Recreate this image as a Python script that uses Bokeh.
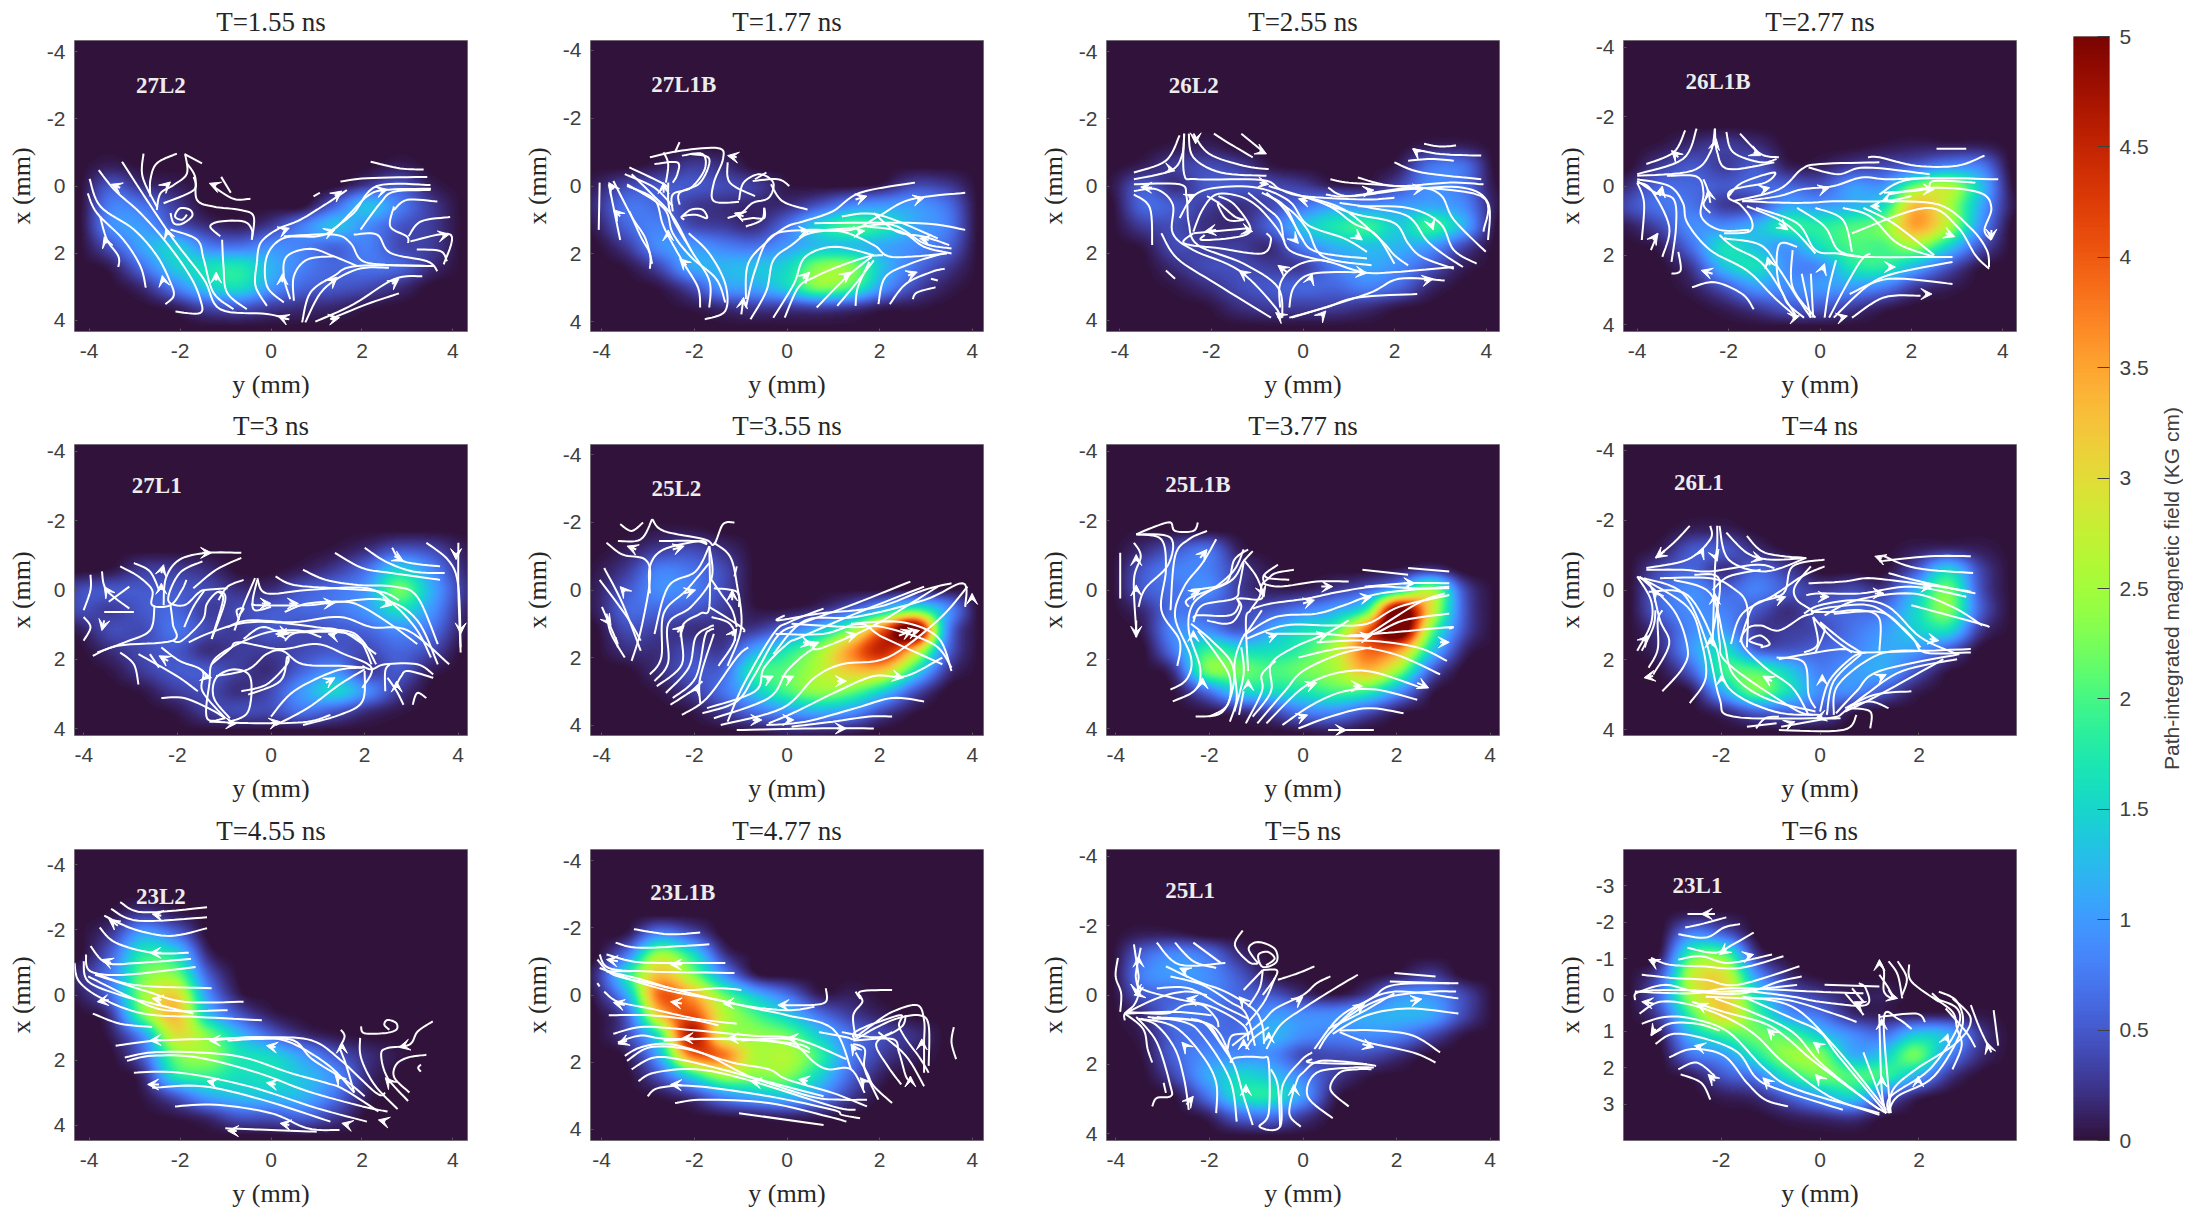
import numpy as np
from bokeh.embed import file_html
from bokeh.resources import INLINE
from bokeh.plotting import figure
from bokeh.layouts import row, column
from bokeh.models import (Range1d, LinearColorMapper, FixedTicker, Arrow, VeeHead,
                          ColumnDataSource, Label)
from bokeh.palettes import Turbo256

grid_cols_y = [-4.2,-3.5,-2.8,-2.1,-1.4,-0.7,0,0.7,1.4,2.1,2.8,3.5,4.2]
grid_rows_x = [-2.4,-1.8,-1.2,-0.6,0,0.6,1.2,1.8,2.4,3.0,3.6,4.2]
Z = [0]*13

grid_27L2 = [Z,Z,Z,
 [0,.1,0,0,0,0,0,0,0,0,.1,0,0],
 [0,.5,.2,.1,0,0,0,0,0,.3,.5,.1,0],
 [0,.8,.7,.3,0,0,0,0,.6,1.3,.8,.3,0],
 [0,.9,1.0,.5,.2,.1,.3,.8,1.3,.9,.5,.3,0],
 [0,.5,1.1,1.4,.8,.7,.9,.8,.6,.8,.4,.3,0],
 [0,.1,.7,1.4,1.6,1.7,1.2,.8,.6,.7,.6,.2,0],
 [0,0,.2,.8,1.4,1.6,1.0,.6,.5,.4,.2,0,0],
 [0,0,0,.1,.4,.5,.3,.2,.15,.05,0,0,0],Z]
grid_27L1B = [Z,Z,Z,
 [0,0,.1,.3,.2,0,0,0,0,0,0,0,0],
 [.1,.4,.5,.5,.4,.3,.05,0,0,.1,.4,.3,0],
 [.2,.7,.6,.3,.2,.15,.2,.5,.9,1.0,1.0,.7,0],
 [.1,.6,.8,.4,.3,.2,.7,1.5,2.0,1.7,1.1,.8,0],
 [0,.3,.9,1.0,.8,.7,1.0,1.3,1.3,1.1,.9,.6,0],
 [0,.05,.4,1.1,1.2,1.3,1.5,2.3,2.3,1.3,.7,.3,0],
 [0,0,.05,.4,1.0,1.1,1.5,2.3,2.0,1.0,.4,.1,0],
 [0,0,0,.05,.2,.3,.3,.4,.3,.1,.05,0,0],Z]
grid_26L2 = [Z,Z,
 [0,0,.05,.1,0,0,0,0,0,0,.1,.1,0],
 [0,.1,.3,.4,.3,.05,0,0,0,.1,.7,.7,0],
 [.05,.5,.2,.5,.5,.4,.3,.1,.1,.4,.9,.7,.05],
 [0,.6,.5,.3,.2,.4,.7,1.0,.9,1.0,1.1,.9,.1],
 [0,.3,.4,.2,.2,.6,1.3,1.7,1.9,1.4,1.9,1.2,.05],
 [0,.05,.4,.3,.3,.2,.8,1.2,1.3,1.2,1.0,.4,0],
 [0,0,.2,.4,.4,.3,.3,.8,1.1,.9,.5,.1,0],
 [0,0,.05,.2,.4,.5,.6,.6,.8,.6,.15,0,0],
 [0,0,0,.02,.2,.3,.3,.3,.2,.05,0,0,0],Z]
grid_26L1B = [Z,Z,
 [0,.05,.2,.3,.2,0,0,0,.05,.1,.1,.1,0],
 [0,.3,.5,.3,.5,.1,.1,.3,.4,.6,.9,.8,0],
 [.2,.6,.6,.5,.6,.6,.5,1.0,1.0,2.2,2.6,1.4,.05],
 [.4,.7,.7,.3,.4,1.1,1.0,1.2,1.6,3.3,2.6,1.2,.1],
 [.1,.4,.9,.9,1.2,1.8,1.8,2.0,2.3,3.5,2.6,1.0,0],
 [0,.1,.7,1.6,1.3,1.0,1.6,2.0,2.0,2.4,1.5,.5,0],
 [0,0,.3,1.3,1.6,.9,.9,1.7,1.8,1.2,.5,.05,0],
 [0,0,.1,.5,1.0,.9,1.0,1.0,.8,.3,.1,0,0],
 [0,0,0,.1,.3,.5,.5,.3,.1,0,0,0,0],Z]
grid_27L1 = [Z,Z,
 [0,0,0,0,0,0,0,0,.05,.2,.5,.4,.1],
 [0,.05,.3,.3,.2,0,0,.1,.3,.7,1.5,.9,.2],
 [.4,.5,.5,.5,.4,.2,.2,.5,.7,1.0,2.2,1.2,.3],
 [.4,.3,.5,.6,.3,.4,.5,.6,.7,1.0,1.6,1.0,.2],
 [.1,.4,.4,.7,.4,.3,.5,.4,.5,.6,.9,.7,.1],
 [0,.2,.4,.5,.2,.3,.3,.4,.5,.4,.6,.4,0],
 [0,.05,.3,.5,.5,.3,.2,.6,.9,.3,.5,.1,0],
 [0,0,.05,.3,.4,.2,.4,1.0,1.5,.9,.3,0,0],
 [0,0,0,.05,.3,.4,.4,.7,.5,.2,.05,0,0],Z]
grid_25L2 = [Z,
 [0,0,.05,.05,0,0,0,0,0,0,0,0,0],
 [0,.1,.3,.4,.2,0,0,0,0,0,0,0,0],
 [.05,.3,.8,.7,.4,0,0,0,0,0,0,0,0],
 [.1,.5,.9,.8,.4,0,0,0,0,0,.05,.05,0],
 [.1,.6,.6,.5,.3,.05,.05,.2,.6,1.3,2.0,1.0,0],
 [0,.4,.3,.2,.2,.3,.7,1.3,2.3,4.0,5.4,1.0,0],
 [0,.2,.2,.4,.3,1.1,1.7,2.4,3.6,4.5,3.2,.7,0],
 [0,0,.2,.5,.6,1.8,2.1,2.6,3.2,3.2,1.7,.3,0],
 [0,0,.05,.3,.7,1.4,2.0,2.4,2.2,1.5,.5,0,0],
 [0,0,0,.05,.3,.7,1.0,1.2,1.0,.4,.05,0,0],
 [0,0,0,0,0,.05,.15,.15,.1,0,0,0,0]]
grid_25L1B = [Z,
 [0,.02,0,0,0,0,0,0,0,0,0,0,0],
 [0,.2,.5,.7,.1,0,0,0,0,0,0,0,0],
 [0,.5,.8,.8,.3,.05,0,0,0,.1,.3,0,0],
 [0,.5,.7,.9,.3,.1,.1,.3,.6,1.4,2.5,.5,0],
 [0,.2,.7,.6,.4,.5,.8,1.1,1.9,5.2,3.0,.6,0],
 [0,.1,.9,.9,.5,1.1,1.6,2.0,3.9,5.6,2.3,.5,0],
 [0,0,.8,1.9,1.6,1.6,1.9,2.6,3.9,3.6,1.5,.2,0],
 [0,0,.3,2.2,2.2,2.0,2.2,2.5,3.3,2.4,.6,0,0],
 [0,0,.05,.7,1.5,1.6,1.7,2.0,1.9,1.0,.1,0,0],
 [0,0,0,.05,.2,.4,.8,.9,.5,.1,0,0,0],
 [0,0,0,0,0,0,.05,.1,0,0,0,0,0]]
grid_26L1 = [Z,
 [0,0,.1,.1,0,0,0,0,0,0,0,0,0],
 [0,.1,.5,.5,.2,0,0,0,0,.1,.2,.1,0],
 [0,.4,.6,.2,.6,.3,0,0,0,.5,1.5,.4,0],
 [0,.6,.9,.6,.8,.5,.3,.4,.3,1.2,2.2,.5,0],
 [0,.6,.9,.8,.5,.2,.5,.6,.7,1.5,2.3,.6,0],
 [0,.3,.9,1.0,.3,.3,.4,.7,1.0,1.4,1.6,.3,0],
 [0,.2,1.0,1.6,.6,.5,.6,.8,1.1,1.0,.5,0,0],
 [0,.05,.6,1.9,2.0,1.4,.8,1.0,1.1,.5,.05,0,0],
 [0,0,.1,1.2,2.2,1.6,.9,.9,.5,.1,0,0,0],
 [0,0,0,.2,.6,.6,.5,.1,0,0,0,0,0],Z]
grid_23L2 = [
 [0,.05,.3,.1,0,0,0,0,0,0,0,0,0],
 [0,.3,1.1,.7,0,0,0,0,0,0,0,0,0],
 [0,.6,1.8,1.6,.2,0,0,0,0,0,0,0,0],
 [.2,.8,2.2,2.3,.6,0,0,0,0,0,0,0,0],
 [.1,.7,2.4,3.1,1.0,.1,0,0,0,0,0,0,0],
 [0,.3,2.2,3.3,1.4,.5,.1,0,0,0,0,0,0],
 [0,.1,1.0,2.9,2.3,1.3,.6,.2,.05,0,0,0,0],
 [0,0,.6,2.2,2.4,1.7,1.5,1.0,.5,.2,.05,0,0],
 [0,0,.2,1.7,1.9,1.6,1.6,1.3,.9,.2,0,0,0],
 [0,0,.05,.5,1.1,1.3,1.3,1.2,.7,.1,0,0,0],
 [0,0,0,.05,.2,.5,.5,.6,.3,0,0,0,0],Z]
grid_23L1B = [Z,
 [0,.1,.9,.5,0,0,0,0,0,0,0,0,0],
 [0,.8,2.5,1.7,.3,0,0,0,0,0,0,0,0],
 [.2,1.7,3.3,2.4,1.0,.1,0,0,0,0,0,0,0],
 [.1,1.2,3.9,3.5,2.2,1.3,.7,.1,.1,0,0,0,0],
 [0,.6,3.2,4.1,2.7,2.0,1.4,.7,.3,.1,0,0,0],
 [0,.4,1.8,4.7,2.7,2.4,2.2,1.4,.7,.4,.2,0,0],
 [0,.1,1.2,3.8,3.8,2.6,2.6,1.9,.8,.3,.1,0,0],
 [0,0,.5,1.6,2.5,2.3,2.3,1.5,.6,.1,0,0,0],
 [0,0,.05,.3,.9,1.2,1.3,.9,.3,0,0,0,0],
 [0,0,0,0,.05,.1,.15,.1,0,0,0,0,0],Z]
grid_25L1 = [Z,
 [0,.1,.1,0,0,0,0,0,0,0,0,0,0],
 [0,.6,.9,.7,.2,0,0,0,0,0,0,0,0],
 [0,.8,1.0,.9,.5,.05,0,0,0,.1,.3,0,0],
 [0,.5,.6,.8,.6,.5,.2,.05,.3,.9,.9,.4,0],
 [0,.2,.7,.7,.6,1.0,.9,.9,1.1,1.2,1.1,.4,0],
 [0,.1,.6,.7,.7,1.2,.9,.8,.9,.8,.4,.05,0],
 [0,.05,.6,.9,.9,.9,.4,.4,.4,.2,0,0,0],
 [0,0,.4,1.1,1.5,1.3,.8,.3,.05,0,0,0,0],
 [0,0,.05,.7,1.6,1.7,1.0,.1,0,0,0,0,0],
 [0,0,0,.1,.6,.7,.3,0,0,0,0,0,0],Z]
grid_23L1 = [
 [0,0,.1,.05,0,0,0,0,0,0,0,0,0],
 [0,0,.9,.6,0,0,0,0,0,0,0,0,0],
 [0,.1,2.0,2.1,.3,0,0,0,0,0,0,0,0],
 [0,.5,2.7,2.9,1.0,.2,0,0,0,0,0,0,0],
 [0,.7,2.6,3.1,1.6,.6,.3,.1,.1,0,0,0,0],
 [0,.4,2.0,3.1,2.0,1.0,.7,.2,.1,.1,.1,.05,0],
 [0,.1,1.3,1.9,2.2,2.0,1.4,.9,.7,1.4,1.2,.3,0],
 [0,0,.7,1.0,1.7,2.4,2.3,1.2,1.4,2.2,.9,.2,0],
 [0,0,.1,.5,.8,1.7,2.2,2.0,1.9,1.2,.3,0,0],
 [0,0,0,.1,.2,.6,1.1,1.5,.7,.15,0,0,0],
 [0,0,0,0,0,.1,.2,.3,.05,0,0,0,0],Z]

lines_27L2 = [
 [-4.01,.22,-3.81,.8,-3.23,1.59,-2.86,2.37,-2.74,3.01],
 [-3.97,-.21,-3.73,.61,-3.0,1.29,-2.49,2.08,-2.2,2.86,-2.13,3.25,-2.31,3.5],
 [-3.77,-.47,-3.42,.12,-2.86,.8,-2.28,1.69,-1.77,2.67,-1.55,3.35,-1.55,3.76,-2.09,3.72],
 [-3.26,-.72,-2.72,.41,-2.13,1.59,-1.47,2.76,-1.11,3.65,-.09,3.79,.4,3.95],
 [-3.74,.9,-3.59,1.59,-3.34,2.08,-3.34,2.4],
 [-2.79,-.96,-2.81,-.27,-2.5,.61],
 [-2.06,-.96,-2.5,-.67,-2.64,-.18,-2.64,.31],
 [-1.88,-.96,-1.84,-.37,-2.13,-.03,-2.42,.22,-2.5,.71],
 [-1.88,-.94,-1.51,-.67],
 [-1.84,-.67,-1.66,-.27,-1.62,.41,-1.26,.61,-.67,.71,-.38,.9,-.42,1.59],
 [-1.69,-.27,-1.69,.12,-2.35,.51],
 [-.45,.38,-.82,.38,-1.26,.02],
 [-1.09,-.27,-.88,.2],
 [-2.2,.8,-2.13,1.1,-1.95,1.12,-1.73,.9,-1.77,.71,-1.99,.66,-2.1,.9,-1.95,1.0,-1.84,.85],
 [-2.2,1.29,-1.62,1.59,-1.47,2.18,-1.26,3.16,-.82,3.65],
 [-1.07,1.59,-1.04,2.37,-.96,3.16,-.53,3.65],
 [-1.11,1.49,-1.33,1.2,-1.11,1.05,-.6,1.05,-.42,1.29,-.42,1.59],
 [-.31,2.27,-.23,1.69,.13,1.29,.64,1.0,1.23,.51,1.66,.12],
 [-.31,2.27,-.34,2.96,-.09,3.55],
 [.28,3.45,-.09,2.96,-.09,2.08,.28,1.54,1.01,1.49,1.37,1.29,1.74,.8,2.1,.31,2.47,.12,3.5,.08],
 [1.52,-.13,2.1,-.23,3.42,-.27],
 [2.18,-.72,2.83,-.52,3.34,-.49],
 [1.3,1.34,1.81,.8,2.32,.0,3.49,-.03],
 [.93,.31,1.07,.2],
 [.42,3.35,.28,2.67,.35,2.08,.86,1.86,1.37,2.08,1.88,2.37],
 [.5,3.4,.5,2.67,.79,2.18,1.37,2.08],
 [.68,4.04,.86,3.16,1.37,2.67,1.88,2.37,3.57,2.37],
 [.75,4.04,1.15,3.06,1.88,2.47,2.58,2.42],
 [.97,4.02,1.81,3.5,2.69,2.76,3.31,2.67],
 [1.3,3.94,2.1,3.5,2.8,3.18],
 [.28,1.49,1.37,1.44,1.74,1.69,1.96,2.18,2.39,2.32,3.49,2.37],
 [1.81,1.44,2.32,1.44,2.61,1.98,3.42,2.23,3.64,2.52],
 [2.69,.61,2.61,1.2,2.97,1.49,3.0,1.69],
 [3.64,.46,2.98,.41,2.69,.71],
 [3.92,.92,3.28,1.05,3.01,1.49],
 [3.05,1.64,3.93,1.44,3.78,2.32],
 [3.19,1.88,3.71,1.93,3.85,2.23],
 [3.49,.12,2.69,.17,2.39,.51,1.96,1.29]]
arrows_27L2 = [[-3.3,.05,-3.5,-.05],[-3.6,1.7,-3.65,1.5],[-2.35,2.85,-2.38,2.65],[-2.25,1.45,-2.3,1.25],
 [-1.2,2.8,-1.2,2.55],[.25,2.85,.25,2.6],[1.32,2.85,1.45,2.7],[2.65,2.9,2.8,2.75],[1.3,3.95,1.5,3.9],[.3,1.3,.4,1.25],
 [1.3,1.35,1.4,1.3],[2.4,.15,2.55,.1],[1.4,.3,1.55,.15],[-2.3,0,-2.2,-.12],[-1.2,0,-1.35,-.08],[3.75,1.47,3.9,1.43],[.35,3.95,.15,3.85]]

lines_27L1B = [
 [-4.1,-.1,-4.12,1.3],[-3.9,-.05,-3.65,1.6],[-3.8,-.15,-3.4,.9,-3.1,1.55,-2.95,2.3],
 [-3.45,.75,-3.2,1.5,-3.0,2.0,-3.0,2.45],
 [-3.4,-.35,-2.95,.25,-2.5,.9,-2.1,1.9,-1.7,2.8,-1.7,3.6],
 [-3.5,.0,-2.9,.4,-2.7,1.2,-2.3,2.2,-1.95,3.0,-1.9,3.6],
 [-3.5,-.05,-2.7,.65,-2.5,1.4,-2.1,2.1,-1.55,2.75,-1.35,3.45],
 [-3.55,-.35,-2.9,.05,-2.5,.6],
 [-3.45,-.55,-2.75,-.1,-2.6,.05],
 [-2.65,-.1,-2.6,-.65,-2.7,-1.0],
 [-2.6,-.1,-2.55,.8,-2.1,1.9],
 [-2.9,-.65,-2.4,-.7,-2.4,-.35,-2.5,-.1],
 [-3.0,-.85,-2.3,-1.05,-1.5,-1.12,-1.4,-.8,-1.6,-.1,-1.6,.45,-1.05,.47],
 [-2.35,-1.3,-2.45,-1.0],
 [-2.3,-.9,-1.85,-.95,-1.8,-.5,-2.1,.05,-2.5,.25,-2.5,.75],
 [-2.1,-.95,-1.7,-.8,-1.9,-.1,-2.35,.2,-2.35,.55],
 [-2.25,1.0,-2.3,.9,-2.0,.85,-1.75,.95,-1.85,.7,-2.1,.7,-2.3,.9],
 [-2.15,1.4,-1.7,2.0,-1.35,2.9,-1.35,3.7,-1.8,3.95],
 [-1.05,.42,-.95,-.1,-.6,-.35,-.3,-.1,-.4,.35,-.75,.5,-1.0,.8,-1.3,.95],
 [-.75,-.15,-.2,-.2,.05,.0],
 [-.35,-.05,-.1,.45,.45,.7],
 [-.7,-.2,-.45,-.4],
 [-1.3,-.7,-1.25,-.1,-.7,.3],
 [-1.0,1.0,-.75,.95,-.5,.95,-.5,.65,-.55,1.0,-.9,1.2],
 [-.9,3.35,-.85,2.3,-.4,1.6,.0,1.2,.35,1.05,1.0,.75,1.6,.2,2.8,-.1],
 [-.9,3.6,-.7,2.5,-.35,1.5,.4,1.3,1.4,1.3,2.0,.9,2.7,.4,3.9,.2],
 [-.8,3.95,-.45,3.1,-.3,2.2,.1,1.75,.5,1.4,1.2,1.35,1.9,1.75,2.3,2.1,3.5,2.0],
 [-.3,3.9,.15,2.9,.4,2.1,1.05,1.8,1.9,2.05],
 [-.05,3.9,.25,3.0,.6,2.7,1.1,2.4,1.75,2.1,2.1,2.05],
 [.65,3.6,1.3,2.7,1.85,2.1],
 [1.1,3.55,1.5,2.9,1.9,2.2],
 [1.5,3.55,1.55,3.0,1.8,2.25],
 [.4,1.35,1.4,1.25,2.3,1.15,3.0,1.7,3.6,1.85],
 [1.75,1.2,2.5,1.35,3.0,1.8,3.6,2.0],
 [1.9,.8,2.4,1.35,3.0,1.5,3.55,1.75],
 [1.2,.9,2.0,.85,3.3,1.55],
 [2.0,3.5,2.15,2.7,2.7,2.3,3.4,2.0],
 [2.25,3.5,2.6,2.9,3.15,2.55,3.45,2.45],
 [2.75,3.35,2.85,3.15,3.25,3.0],
 [3.15,2.75,3.3,2.8],
 [.6,1.1,2.9,1.1,3.9,1.3]]
arrows_27L1B = [[-1.0,3.8,-.95,3.3],[.35,2.75,.5,2.55],[1.25,2.7,1.4,2.55],[2.65,2.65,2.85,2.55],
 [-3.65,.9,-3.8,.7],[-3.8,.1,-3.9,-.1],[-2.2,2.35,-2.35,2.15],[-2.7,.2,-2.7,-.1],[-2.6,1.5,-2.6,1.3],
 [-1.1,-.85,-1.3,-.9],[.3,1.35,.5,1.33],[1.55,1.35,1.7,1.33],[2.85,.4,3.0,.35],[1.5,.4,1.75,.3],[3.1,1.6,2.9,1.55],
 [-.95,.9,-1.15,.8]]

lines_26L2 = [
 [-3.7,-.4,-3.0,-.75,-2.7,-1.5],[-3.7,-.2,-2.9,-.45,-2.65,-.9,-2.6,-1.55],
 [-3.7,-.05,-2.7,-.05,-2.55,.3,-2.5,1.1,-2.3,1.75,-1.3,2.3,-.55,3.0,-.45,3.9],
 [-2.6,-1.55,-2.6,-.35,-2.3,-.2,-.9,-.18,-.5,.1,.0,.3,1.3,.4,2.0,.35],
 [-2.5,-1.55,-2.4,-.85,-1.8,-.4,-.8,-.3],
 [-2.4,-1.55,-2.05,-.95,-1.3,-.6,-.75,-.5],
 [-1.95,-1.55,-1.6,-1.25,-1.1,-.85],
 [-3.7,.25,-3.35,.65,-3.3,1.75],
 [-3.7,.15,-3.2,.1,-2.85,.55,-2.85,1.4,-2.4,1.9,-1.4,2.5,-.6,3.6,-.55,3.9],
 [-3.1,1.4,-2.75,2.15,-1.9,2.9,-.7,3.9],
 [-3.0,2.5,-2.8,2.75],
 [-2.7,.95,-2.4,.3,-1.9,.05,-1.0,.05,-.3,.45,.1,1.15,.9,1.55,1.4,1.95],
 [-2.4,1.35,-2.2,.7,-1.9,.25,-1.4,.3,-1.0,.6,-.6,1.2,-.4,1.65],
 [-2.15,1.45,-2.2,1.6,-1.4,1.5,-1.15,1.25,-1.5,.55,-1.85,.3],
 [-2.1,.3,-1.85,.5,-1.5,.9,-1.3,1.0,-1.65,1.0,-1.85,.6,-1.85,.45],
 [-2.4,1.4,-1.2,1.25],
 [-2.4,1.4,-2.6,1.7,-1.8,1.85,-.9,2.0,-.7,1.6,-.8,1.4],
 [-1.2,.2,-.8,.65,-.5,1.05,-.3,1.9,.6,2.25],
 [-.8,.25,-.25,.75,.1,1.3,.45,2.1,1.5,2.35],
 [-.9,.2,-.4,.6,-.05,1.5,.3,1.95,1.4,2.15],
 [-.8,.2,-.4,.7,.0,1.6],
 [-.75,.0,.5,.55,1.1,1.1,1.6,1.45,2.0,2.3],
 [.0,.3,.9,.7,1.7,1.6,2.0,2.05,2.3,2.35],
 [.5,.55,1.2,.85,2.0,1.1,2.3,1.7,2.6,2.1,3.3,2.45],
 [.8,.5,1.5,.65,2.3,.9,2.7,1.6,3.05,2.0,3.5,2.4],
 [1.2,.6,2.3,.65,3.0,1.1,3.3,1.9,3.8,2.3],
 [.5,.25,1.0,.3,2.4,.05,3.0,.25,3.3,1.0,4.0,1.95],
 [.55,.05,1.0,.3,2.3,.1,3.5,.05,4.05,.5,4.05,1.6],
 [1.2,-.25,2.0,.0,3.2,-.1,3.95,-.05],
 [.6,-.2,1.0,-.1,2.0,.0,3.9,.3,3.95,1.35],
 [2.0,-.7,2.6,-.4,3.9,-.2],
 [2.4,-1.1,3.0,-.95,3.9,-.9],
 [2.65,-1.25,3.0,-1.17,3.35,-1.2],
 [2.3,-.75,2.8,-.8,3.3,-.75],
 [-.5,3.6,-.5,2.9,-.2,2.4,.4,2.2,1.3,2.55,2.0,2.55,3.3,2.4],
 [-.3,3.6,-.2,3.0,.2,2.6,1.2,2.55],
 [-.25,3.9,1.4,3.2,2.1,2.75,3.1,2.8],
 [-.3,3.9,.5,3.6,1.2,3.3,2.5,3.2],
 [-1.35,-1.55,-.9,-1.05]]
arrows_26L2 = [[-.95,-1.05,-.8,-.95],[-3.3,.05,-3.55,.03],[-.95,-.1,-.75,-.05],[.1,.45,-.1,.38],[1.4,.15,1.55,.12],[2.45,.1,2.65,.07],
 [-2.95,-.5,-2.8,-.45],[-2.5,.35,-2.35,.25],[-1.9,1.3,-2.15,1.35],[-1.25,1.3,-1.1,1.35],[1.15,1.45,1.3,1.6],[2.8,1.1,2.85,1.3],
 [-1.25,2.65,-1.4,2.5],[-.35,2.55,-.55,2.35],[.15,2.8,.2,2.6],[1.2,2.55,1.4,2.58],[2.65,2.8,2.85,2.75],[.4,3.85,.5,3.7],[-.45,3.9,-.6,3.75],[-.2,1.55,-.1,1.7],[2.5,-1.0,2.4,-1.1],[-2.35,-1.4,-2.35,-1.25]]

lines_26L1B = [
 [-3.8,-.65,-3.2,-1.0,-2.95,-1.65],[-4.0,-.35,-3.0,-.8,-2.7,-1.7],[-4.0,-.3,-2.8,-.45,-2.4,-1.0,-2.3,-1.7],
 [-2.3,-1.7,-2.25,-1.0,-2.0,-.5,-1.0,-.7],[-2.05,-1.6,-1.9,-1.0,-1.3,-.7,-.95,-.8],[-1.75,-1.55,-1.3,-.95,-.9,-.85],
 [-3.35,-.3,-2.7,-.28,-2.55,.2,-2.6,.9,-2.2,1.3,-1.55,1.3],
 [-4.0,-.2,-3.3,.0,-3.0,.5,-2.9,1.1,-2.4,1.9,-1.6,2.5,-1.0,3.3,-.5,3.9],
 [-4.0,-.15,-3.6,.2,-3.2,.4,-3.15,1.2,-3.25,2.25],
 [-4.0,-.1,-3.7,.1,-3.3,1.2,-3.45,2.1],
 [-4.0,-.1,-3.85,.5,-3.9,1.6],[-3.7,1.9,-3.55,1.4],[-3.1,1.95,-3.05,2.5,-3.25,2.6],
 [-2.8,3.0,-2.3,2.85,-1.7,3.2,-1.45,3.65],
 [-2.4,.8,-2.55,.55,-2.45,.2,-2.55,-.2],
 [-2.1,1.4,-1.55,1.35,-1.5,1.0,-1.75,.55,-2.0,.35,-1.9,.1,-1.2,-.1,-1.0,-.4,-1.7,-.1,-2.0,.3],
 [-2.2,1.45,-1.9,1.8,-1.3,2.25,-.85,3.1,-.7,3.5,-.35,3.9],
 [-2.1,1.55,-1.3,1.75,-.9,2.45,-.5,3.3,-.2,3.9],
 [-1.9,.45,-.9,.1,-.4,-.5,.0,-.65,1.3,-.7],
 [-1.7,.45,-.9,.3,-.4,.1,.3,.0,.9,-.25,1.5,-.2,2.4,-.25],
 [-1.7,.45,-.5,.5,.4,.45,1.4,.45,2.0,.3],
 [-1.4,.65,-.5,1.1,-.1,1.9,.4,2.0,1.0,2.1,2.9,2.1],
 [-1.6,.6,-.9,1.0,-.5,1.4,-.1,2.0],
 [-.5,.65,.1,1.2,.4,1.9,.9,2.1],
 [-.1,.65,.5,1.0,.7,1.95],
 [.5,.65,1.1,.9,1.7,1.7,2.5,2.1],
 [.95,.65,1.6,1.1,2.5,2.05],
 [.7,1.4,2.3,.65,3.0,1.2,3.4,2.05,3.7,2.45],
 [1.4,.45,2.6,.55,3.3,1.25,3.65,1.9,3.7,2.4],
 [1.5,.25,2.5,.05,3.5,.2,3.75,.65,3.6,1.3,3.75,1.6],
 [1.4,.2,2.3,.1,2.5,-.15,3.4,-.1],
 [1.3,.25,2.0,-.2,3.9,-.2],
 [-.25,-.55,.4,-.35,1.0,-.55,2.4,-.35],
 [1.05,-.85,1.3,-.85,2.1,-.6,3.0,-.6,3.6,-.9],
 [2.55,-1.1,3.2,-1.1],
 [-.5,3.9,-.9,2.9,-.9,1.75,-.5,1.8],
 [-.1,3.9,-.6,3.0,-.6,1.9],
 [-.2,3.9,-.4,2.6],
 [-.15,3.9,-.2,2.6],
 [.1,3.9,.2,3.0,.35,2.2],
 [.2,3.9,.55,3.0,.9,2.2,1.1,2.0],
 [.3,3.9,1.0,3.0,1.6,2.6,2.9,2.25],
 [.65,3.2,1.5,2.75,2.9,2.9],
 [.7,3.9,1.4,3.3,2.2,3.25]]
arrows_26L1B = [[-3.1,-.85,-3.25,-1.05],[-2.3,-1.2,-2.27,-1.4],[-1.45,-1.0,-1.3,-.9],[-3.5,.3,-3.45,.0],[-3.65,1.6,-3.55,1.4],
 [-2.4,.5,-2.45,.1],[-2.35,2.6,-2.6,2.5],[-1.1,2.35,-1.15,2.1],[.05,2.5,.1,2.3],[1.5,2.4,1.65,2.4],[2.3,3.2,2.45,3.2],
 [-1.25,.1,-1.1,.05],[.05,.1,.2,.05],[2.3,.1,2.5,.1],[1.45,.4,1.35,.45],[-.9,1.1,-.7,1.3],[2.75,1.4,2.95,1.5],[3.75,1.3,3.75,1.6],[.45,3.9,.6,3.85],[-.6,3.9,-.45,3.85],[1.3,.6,1.1,.6]]

lines_27L1 = [
 [-4.1,.6,-3.95,.0,-3.95,-.45],[-4.1,1.5,-3.95,1.1,-4.1,.8],
 [-3.7,-.55,-3.6,.0,-3.1,.55],[-3.65,.65,-3.0,.65],[-3.1,-.1,-3.55,.35],
 [-3.8,1.85,-3.2,1.55,-2.65,1.2,-2.55,.5],
 [-3.3,-.7,-2.9,-.4,-2.6,.0,-2.6,.45,-2.2,.45,-1.95,.0,-1.85,-.3],
 [-3.0,-.8,-2.65,-.55,-2.45,.0],
 [-2.35,.45,-2.3,-.35,-2.0,-.9,-1.4,-1.1,-.65,-1.1],
 [-1.5,-.85,-2.0,-.5,-2.25,.3,-1.9,.45,-1.6,.1,-1.45,.0,-.95,-.05],
 [-1.7,-.05,-1.2,-.6,-.65,-.95],
 [-1.45,.0,-1.7,.5,-1.9,1.1],
 [-2.2,.45,-2.15,1.0,-2.15,1.5,-3.35,1.65,-3.9,1.95],
 [-2.15,1.5,-1.95,1.5,-1.5,.9,-1.4,.4,-1.15,.05,-1.0,.3,-1.3,1.45],
 [-1.15,.05,-1.05,.3,-1.3,1.45],[-.7,.75,-.6,.55,-.75,.6,-.7,.9],
 [-.6,-.3,-.95,-.1,-1.15,.3],[-.35,-.35,-.6,.45,-.8,1.2],
 [-.3,-.3,-.4,.3,-.35,.6,.0,.5],
 [-2.65,1.9,-2.45,2.3],[-3.3,1.85,-3.0,2.2,-2.9,2.8],
 [-2.9,1.9,-2.5,2.2,-2.0,2.6,-1.6,3.0],
 [-2.4,1.7,-2.0,2.1,-1.5,2.4,-1.5,3.0,-1.0,3.8],
 [-2.4,3.2,-1.9,3.2,-1.3,3.55,-1.0,3.8],
 [-1.0,3.8,-1.4,3.8,-1.35,2.8,-1.2,2.0,-.2,1.3,.6,1.2,1.1,1.4],
 [-.9,3.8,-1.25,3.2,-1.2,2.6,-.8,2.35,-.45,2.6,-.5,3.6,-.9,3.9],
 [-1.2,2.55,-.5,2.35,-.1,1.9,.25,1.8,.7,2.2,1.6,2.25,2.05,2.3],
 [-.65,3.0,-.1,2.8,.35,2.2,.35,2.0,.2,2.7,-.5,3.1],
 [-1.3,2.2,-.9,1.75,-.7,1.55,.2,1.75,1.0,1.6,1.6,1.9,2.2,2.3,2.0,2.9],
 [.0,3.75,.5,3.0,1.4,2.4,2.0,2.3],
 [.1,4.0,.8,3.5,1.5,2.8,2.05,2.35],
 [.7,4.0,1.5,3.7,2.0,3.3,2.05,2.4],
 [-1.35,3.9,-.2,3.95,.8,3.9,1.3,3.7],
 [2.0,2.25,2.2,2.35,2.5,2.2,3.2,2.2,3.55,2.5],
 [2.5,3.0,2.5,2.4,2.6,2.2],[2.9,3.4,2.75,3.0,2.55,2.6],[3.4,3.2,3.2,3.05,3.1,3.4],
 [3.55,2.6,3.0,2.4,2.85,2.55,2.75,2.8],
 [-1.8,1.55,-1.4,1.3,-.7,1.0,.0,.95,1.0,1.1,1.6,1.25,2.3,1.9],
 [-.6,1.45,-.2,1.1,.3,1.25,1.5,1.25,1.95,1.5,2.2,2.2],
 [-.95,1.1,-.5,.9,.5,.95,1.5,.8,2.2,1.1,3.0,1.2,3.9,2.2],
 [-.4,.4,-.3,.45,.8,.45,1.5,.35,2.5,.3,3.2,.9,3.65,2.2],
 [-.3,-.35,-.1,.1,.8,.0,2.1,-.05,2.7,.45,3.2,1.2,3.5,2.0],
 [.1,-.4,.5,-.15,1.4,-.05,2.4,.05,2.8,.3],
 [.7,-.6,1.2,-.3,1.9,-.15,2.7,-.1,3.2,.2,3.65,1.6],
 [1.4,-1.1,2.0,-.65,2.65,-.5,3.7,-.3],
 [2.05,-1.25,2.5,-.85,3.1,-.55,3.8,-.5],
 [2.65,-1.25,2.9,-.85,3.7,-.7],
 [3.4,-1.4,3.9,-.85,4.1,-.1,4.15,1.7],
 [4.1,-1.4,4.1,.0,4.15,1.85],
 [.3,.65,.8,.4,1.6,.35,2.0,.5,2.6,1.0,3.2,1.6],
 [.3,1.5,.6,1.25,1.6,1.2,2.0,1.5,2.3,2.2]]
arrows_27L1 = [[-1.5,-1.1,-1.3,-1.1],[-2.4,-.5,-2.35,-.75],[-2.4,.0,-2.4,-.2],[-3.6,.0,-3.65,-.1],[-3.65,.9,-3.7,1.2],
 [-2.25,2.1,-2.45,1.95],[-1.45,2.55,-1.3,2.6],[-.95,3.95,-.75,3.95],[.0,3.95,.2,3.9],[1.2,2.75,1.4,2.6],[2.75,2.9,2.75,2.7],
 [-.2,.4,.0,.4],[.4,.4,.6,.4],[1.2,.4,1.4,.38],[2.5,.4,2.65,.45],[.25,1.3,.1,1.3],[1.4,1.35,1.25,1.3],
 [.25,1.25,.4,1.3],[2.7,-1.0,2.9,-.85],[4.05,-1.1,4.05,-.9],[4.15,1.1,4.15,1.3]]

lines_25L2 = [
 [-3.65,-1.95,-3.4,-1.75,-3.15,-2.0],[-3.7,-1.45,-3.2,-1.5,-2.95,-2.1],[-2.95,-2.1,-2.7,-1.75,-1.8,-1.5,-1.6,-1.35,-1.4,-1.95,-1.15,-2.0],
 [-2.8,-1.45,-2.0,-1.45,-1.75,-1.35],[-4.0,-.65,-3.6,.4,-3.2,1.8],[-4.1,-.3,-3.5,.8,-3.2,1.5],[-4.05,.5,-3.7,1.6],
 [-3.95,-1.4,-3.6,-1.05,-3.1,-.9,-3.0,-.3,-3.2,1.2,-3.4,2.1],
 [-3.95,.7,-3.85,1.3,-3.55,2.0],[-3.7,1.7,-3.75,1.4],
 [-3.0,.1,-3.0,-.7,-2.7,-1.2,-1.9,-1.45,-1.75,-1.35],
 [-2.9,1.3,-2.6,-.1,-2.0,-.55,-1.7,-1.3],
 [-3.0,2.5,-2.75,2.0,-2.7,.7,-2.2,.0,-1.7,-.8],
 [-2.9,2.7,-2.6,2.15,-2.6,1.0,-2.1,.5,-1.65,-.35,-1.7,-1.3],
 [-2.85,2.85,-2.3,2.2,-2.3,1.1,-1.9,.7,-1.7,.5,-1.7,-1.3],
 [-2.65,3.05,-2.15,2.3,-2.0,1.4,-1.7,1.1,-1.6,1.05],
 [-2.5,3.2,-2.0,2.6,-1.8,1.4,-1.7,1.2,-1.6,1.15],
 [-1.9,3.35,-1.9,2.6,-1.6,1.3],
 [-1.7,.5,-1.0,1.1,-.95,1.25],[-1.65,-.3,-1.45,.1,-1.2,.6,-1.1,1.1],
 [-1.65,.8,-1.25,1.0,-1.15,1.5,-1.5,2.25],
 [-1.6,-.05,-1.1,.05,-1.05,.5],[-1.1,-.7,-1.15,-.4],
 [-1.6,-1.4,-1.25,-1.0,-1.1,-.2,-1.0,1.1,-1.3,2.25],
 [-2.55,3.4,-2.1,3.0,-1.85,2.7],[-2.3,3.7,-1.75,3.2,-1.1,2.0,-.85,1.7],
 [-1.3,3.9,-.95,2.8,-.3,1.3,.05,.95,.8,.55],
 [-1.85,3.65,-1.1,3.3,-.7,2.5,-.2,1.35,.3,1.0,1.5,.4,2.7,-.25],
 [-1.75,3.5,-.7,3.0,-.5,2.3,.0,1.6,.3,1.4,1.5,.7,3.0,-.1],
 [-1.6,3.8,-.4,3.2,.0,2.4,.5,1.8,.8,1.7,1.9,1.05,3.3,-.1],
 [-1.45,4.0,-.1,3.5,.6,2.6,1.2,2.2,2.2,2.0,3.3,.9,3.95,-.1],
 [-.4,3.95,.2,3.6,1.1,3.0,1.9,2.55,2.6,2.55,3.4,2.0],
 [-.45,4.0,.4,3.9,1.5,3.5,2.3,3.2,3.0,3.3],
 [.1,4.05,1.0,3.9,1.8,3.75,2.3,3.75],[-1.1,4.15,.6,4.1,1.9,4.1],
 [-.05,.75,-.2,.9,.7,.7,2.0,.5,3.0,.0,3.6,-.2],
 [-.3,1.9,.4,.9,1.5,.8,3.0,.3,3.85,-.2,3.9,.5],
 [-.25,1.3,.8,1.3,1.6,1.0,2.1,1.4,3.4,2.2],
 [.1,1.0,1.4,1.1,2.1,1.1,3.2,1.6,3.6,2.3],
 [1.4,1.0,2.5,.95,3.3,1.4,3.6,2.4]]
arrows_25L2 = [[-3.95,.85,-3.85,1.05],[-3.55,.05,-3.65,-.1],[-3.3,-1.2,-3.5,-1.3],[-2.5,-1.2,-2.25,-1.3],[-2.25,.1,-2.0,.0],[-2.4,1.25,-2.25,1.05],
 [-2.0,3.0,-1.95,2.8],[-1.2,.3,-1.2,.0],[-1.2,1.35,-1.1,1.15],[-.45,2.65,-.3,2.55],[.0,2.65,.15,2.55],[.5,1.65,.7,1.55],[1.3,1.4,1.55,1.3],
 [1.1,2.7,1.3,2.7],[2.35,2.55,2.55,2.6],[2.45,1.35,2.75,1.2],[.35,1.55,.55,1.6],[-.75,3.85,-.55,3.85],[.0,3.85,.15,3.85],[1.1,4.1,1.3,4.1],[4.05,.3,4.05,.1],[2.75,1.25,2.9,1.2]]

lines_25L1B = [
 [-4.0,-1.1,-4.0,.25],[-3.7,-1.4,-3.55,-1.0,-3.7,-.3,-3.65,1.2],[-3.65,1.4,-3.65,.9],
 [-3.65,-1.65,-2.9,-1.55,-2.95,-.75,-3.45,-.05,-3.6,.5],
 [-3.65,-1.65,-3.2,-1.9,-2.9,-2.0,-2.8,-1.75,-2.4,-1.75,-2.3,-2.0],
 [-3.65,-1.65,-3.1,-1.5,-3.0,-.6,-3.1,.6,-2.7,1.5,-2.75,2.25],
 [-2.9,.6,-2.8,-1.0,-2.5,-1.5,-2.1,-1.75],
 [-2.9,2.95,-2.55,2.65,-2.45,2.0,-2.8,.8,-2.6,-.1,-2.2,-.8,-1.9,-1.5],
 [-2.85,3.3,-2.35,2.95,-2.25,2.3,-2.5,1.2,-2.4,.4,-1.9,-.1,-1.5,-.6,-1.3,-1.2],
 [-2.45,.0,-1.7,-.2,-1.5,-.9,-1.2,-1.2],[-2.5,.5,-2.5,.25,-1.6,-.25,-1.3,-.85,-1.1,-1.15],
 [-2.4,.95,-2.2,.45,-1.5,.25,-1.4,-.1,-1.3,-.8],
 [-2.4,.85,-2.3,.75,-1.6,.75,-1.4,.45,-1.4,.25,-.9,.25,-1.0,-.35,-1.3,-.9],
 [-2.1,.9,-1.95,.95,-1.7,1.0,-1.5,.9,-1.35,.5,-1.45,.25],
 [-.75,-.35,-.9,-.15,-.95,.2,-1.15,.6,-1.25,.9,-1.2,2.4],
 [-.75,-.35,-.6,-.5,-.2,-.6],[-.85,-.2,-.85,-.45,-.55,-.75],[-.85,-.45,-.75,-.35,-.3,-.3],
 [-.9,-.2,-.5,-.1,.3,-.25,1.0,-.25],
 [-2.35,3.75,-1.8,3.65,-1.55,3.0,-1.55,2.2,-2.0,1.5,-2.45,1.0],
 [-2.05,3.75,-1.65,3.4,-1.6,2.6,-1.9,1.9,-2.3,1.2],
 [-1.6,3.9,-1.45,3.2,-1.5,2.2,-1.35,1.5,-1.15,1.1,-.9,.6],
 [-1.5,3.6,-1.3,2.5,-1.35,1.7],[-1.4,3.7,-1.3,3.0],
 [-1.25,3.95,-.9,3.0,-.9,2.5,-.6,2.1],
 [-1.1,3.75,-.7,3.0,-.7,2.2,-.2,1.7,.5,1.3,1.0,.9],
 [-1.0,3.95,-.4,3.0,.0,2.4,.8,1.9,1.5,1.7],
 [-.8,3.95,-.1,3.0,.4,2.6,1.0,2.4,1.6,2.45,2.6,2.9],
 [-.45,4.0,.2,3.4,.9,3.0,1.6,2.95,2.5,3.25],
 [-.1,4.1,.6,3.75,1.4,3.5,2.2,3.65],[.55,4.15,1.55,4.15],
 [-1.1,.55,-.7,.4,.1,.25,.8,.05,1.6,-.1,2.45,-.05,3.2,-.05],
 [-1.3,1.35,-.6,.8,.3,.7,.9,.45,1.7,.1,3.2,-.1],
 [-1.25,1.45,-.4,1.05,.6,1.05,1.4,1.0,2.1,.5,3.2,.15],
 [-.65,1.3,.4,1.3,1.4,1.35,2.2,.9,3.2,.7],
 [1.0,1.35,2.0,1.25,3.2,1.1,3.2,1.15],
 [.3,1.55,1.4,1.5,2.5,1.7,3.15,2.1],
 [-.1,2.0,1.0,1.7,2.0,1.9,3.0,2.5],
 [1.35,-.1,2.3,-.2,3.2,-.2],[1.3,-.6,2.3,-.45],[2.3,-.65,3.2,-.55],
 [1.4,1.35,2.5,.4,3.1,.1]]
arrows_25L1B = [[-3.65,-.85,-3.65,-1.05],[-3.65,.05,-3.65,-.15],[-3.65,1.2,-3.65,1.4],[-2.25,-.95,-2.1,-1.2],[-2.45,.15,-2.25,.0],[-2.4,1.4,-2.4,1.2],
 [-2.2,2.8,-2.2,2.6],[-1.2,2.85,-1.2,2.65],[-.75,1.4,-.55,1.3],[.0,.4,.25,.3],[.3,1.4,.55,1.3],[1.3,1.4,1.5,1.35],[1.3,.25,1.5,.2],[3.0,1.55,3.2,1.55],
 [2.5,2.75,2.75,2.9],[1.1,2.85,1.3,2.85],[.1,2.85,.3,2.75],[-.1,3.8,.1,3.7],[2.2,-.2,2.45,-.2],[.7,4.15,.95,4.15],[.4,-.1,.65,-.1],[-.9,.0,-.85,.2]]

lines_26L1 = [
 [-2.85,-1.9,-3.2,-1.4,-3.6,-.95],
 [-2.4,-1.9,-2.4,-1.5,-2.9,-.9,-3.8,-.65],
 [-2.25,-1.9,-2.25,-1.3,-2.3,-.6,-2.35,1.65],
 [-2.2,-1.9,-2.0,-.9,-1.2,-.55,-.3,-.95],
 [-2.05,-1.7,-1.6,-1.1,-1.1,-.9,-.3,-.95],
 [-1.6,-1.6,-1.2,-1.1,-.35,-.95],
 [-3.8,-.6,-3.0,-.6,-2.4,-.55,-1.4,-.75,-1.0,-.65],
 [-3.5,-.35,-2.4,-.35,-1.9,-.05,-1.6,.45,-1.6,1.7],
 [-2.75,-.45,-2.2,-.3,-2.35,1.3],
 [-2.35,.0,-2.0,-.4,-1.3,-.6],
 [-4.0,-.4,-3.7,.3,-3.7,1.0,-4.0,1.8],
 [-4.0,-.4,-3.7,-.1,-3.5,.9,-3.3,1.6,-3.65,2.5],
 [-3.95,-.4,-3.2,.6,-2.9,1.7,-3.0,2.3,-3.45,3.0],
 [-3.9,-.35,-2.9,.5,-2.6,1.5,-2.5,2.6,-2.85,3.35],
 [-3.85,-.35,-3.0,.1,-2.5,1.5,-2.2,3.2,-1.9,3.75,.0,3.8,.45,3.8],
 [-3.6,.6,-3.65,1.1,-3.9,1.8],
 [-3.75,2.3,-3.55,1.75,-3.55,.9,-3.45,.6],
 [-3.75,.05,-2.9,.15,-2.3,1.6,-2.0,2.9,-1.0,3.6,.0,3.7],
 [-3.2,-.3,-2.4,.1,-2.1,1.5,-1.9,2.5,-1.2,3.2,-.1,3.6],
 [-2.25,.2,-2.2,1.5,-2.0,2.2,-.6,3.5,-.15,3.7],
 [-1.95,1.6,-1.7,.7,-1.0,.15,-.4,-.4,.1,-.7],
 [-1.75,1.55,-1.6,.9,-1.4,.4,-.8,.1,-.6,-.7,.1,-.9],
 [-.25,3.7,-.6,2.9,-1.2,2.3,-1.7,1.6,-1.6,1.15,-1.3,1.05,-.9,1.2,-.4,.8,-.15,.65,-.5,.3,-.55,-.1,-.2,-.7],
 [-1.25,1.65,-1.55,1.5,-1.3,1.35,-1.1,1.6,-1.3,1.7],
 [-.15,.65,.3,.65,.9,.6,1.3,.85,1.3,1.8],
 [-.35,1.85,-.05,1.6,-.15,.8],[-.1,1.85,.1,1.2,.0,1.0],
 [-.95,2.0,-.35,2.15,-.25,3.1,-.1,3.5],
 [-.9,2.05,-.3,1.9,.5,1.75,1.0,1.85,3.3,1.75],
 [-.15,.8,.25,1.4,.7,1.85],[.0,.95,.5,1.5,.9,1.85],
 [-.2,.65,.3,.5,1.2,.5,2.0,1.4,2.3,1.85,3.3,1.85],
 [-.35,.7,.0,.45,.8,.3,1.5,.5,2.2,1.4,3.0,1.9],
 [.1,.75,.8,.3,2.0,.1,2.9,.5,3.55,1.05],
 [.3,.7,1.3,.65,1.8,1.1,2.2,1.7],
 [.0,3.6,.2,2.7,.7,2.0,1.0,1.85],
 [.15,3.7,.3,2.7,.9,1.9],
 [.3,3.7,.4,2.8,1.3,1.9,2.3,1.8],
 [.35,3.65,.8,3.0,1.3,2.4,3.05,1.9],
 [.4,3.75,1.0,3.1,1.8,2.4,3.0,2.05],
 [.55,3.6,1.3,3.1,2.7,2.05],
 [.55,3.5,1.2,3.1,2.0,3.0],[.65,3.45,1.1,3.3,1.5,3.5],[.65,3.5,1.1,3.6,1.1,4.1],
 [-.9,4.15,.5,4.15,.8,3.7],
 [-.85,4.05,.4,3.75],[-1.4,4.1,-1.2,3.8,-.9,3.75],[-1.6,4.05,-.95,3.95],
 [-.25,-.2,.5,-.25,1.0,-.35,1.5,-.3,2.6,-.1,3.3,.05],
 [-.3,.15,.0,.1,.9,.1,2.0,-.1,3.2,.2],
 [1.4,-1.0,2.1,-.65,3.35,-.5],[1.3,-.85,2.4,-1.0,3.3,-1.0],
 [1.5,-.5,2.2,-.25,3.4,.1],[2.0,.45,3.5,1.0,3.7,1.1]]
arrows_26L1 = [[-3.4,-1.15,-3.6,-.95],[-2.6,-1.1,-2.55,-1.25],[-2.3,-1.05,-2.25,-.85],[-1.4,-.95,-1.25,-.9],[-3.85,1.5,-3.75,1.35],
 [-3.6,.1,-3.65,.0],[-3.65,2.55,-3.85,2.6],[-2.3,.35,-2.3,.1],[-2.4,1.6,-2.4,1.4],[-2.15,2.7,-2.15,2.5],[-1.05,2.7,-1.25,2.55],
 [-.95,.3,-.75,.2],[.0,.2,.2,.2],[1.2,.1,1.4,.1],[2.25,-.1,2.45,-.1],[2.4,1.45,2.6,1.5],[.05,3.75,-.1,3.8],[1.3,2.6,1.45,2.5],[.05,2.7,.05,2.5],[-.65,3.95,-.55,3.9],[1.35,-.93,1.2,-1.0]]

lines_23L2 = [
 [-3.3,-2.75,-2.8,-2.45,-1.4,-2.6],[-3.5,-2.55,-2.9,-2.2,-1.4,-2.3],[-3.65,-2.35,-3.0,-1.95,-2.2,-1.75,-1.4,-1.98],
 [-3.75,-2.0,-3.4,-1.55,-2.6,-1.25,-1.8,-1.25],[-3.95,-1.45,-3.6,-.95,-2.9,-.95,-1.75,-1.07],
 [-4.05,-1.2,-3.95,-.7,-3.2,-.6,-1.65,-.83],[-4.1,-1.0,-4.0,-.4,-3.3,.0,-2.6,.25,-1.7,.55],
 [-3.85,-.65,-3.0,-.3,-1.3,-.2],[-4.3,-.95,-4.2,-.4,-3.7,.1,-2.8,.55,-1.6,.65,-.2,.75],
 [-4.0,-.55,-3.1,.05,-2.3,.45,-.95,.45],[-3.85,-.6,-2.7,-.1,-1.9,.2,-.6,.2],
 [-3.9,.55,-3.3,.85,-2.6,.95],[-3.4,1.5,-2.5,1.35,-1.3,1.3,.0,1.25,.9,1.35,1.5,1.9,2.3,2.9,2.5,2.9],
 [-3.2,1.85,-2.6,1.7,-1.6,1.7,-.6,1.85,.4,2.3,1.2,2.6,1.6,2.8,2.35,3.45],
 [-3.15,1.95,-2.6,1.8,-1.6,1.85,-.3,2.3,.8,2.85,2.0,3.3,2.55,3.45],
 [-3.0,2.3,-2.0,2.3,-.5,2.7,1.0,3.35,2.1,3.75],
 [-2.6,2.75,-1.5,2.7,-.2,3.1,1.3,3.75],
 [-2.1,3.3,-1.2,3.25,.0,3.5,.8,3.95,1.5,4.0],
 [-1.0,3.95,.0,4.0,1.0,4.05],
 [-1.3,1.35,-.4,1.25,.3,1.35,.9,1.75,1.4,2.25,1.82,2.89],
 [-.95,1.35,-.2,1.3,.5,1.35,.9,1.9,1.6,2.5,2.05,3.0],
 [1.53,1.03,1.61,1.23,1.5,1.57],
 [1.5,1.57,1.64,2.06,1.82,2.89],
 [1.95,1.27,1.97,1.86,2.26,2.65,2.77,3.38],
 [1.97,.93,2.04,1.13,2.48,1.13,2.74,1.03,2.74,.83,2.55,.74,2.48,.88,2.59,1.03],
 [3.54,.78,3.21,1.08,3.03,1.47,2.55,1.57,2.41,1.77,2.55,2.45,3.0,3.14],
 [3.4,1.77,3.0,1.85,2.74,2.06,2.7,2.45,3.03,2.89],
 [3.28,2.06,3.22,2.16,3.28,2.27]]
arrows_23L2 = [[-2.4,-2.35,-2.6,-2.4],[-3.35,-2.05,-3.55,-2.25],[-2.4,-1.25,-2.65,-1.25],[-3.5,-.95,-3.7,-1.05],[-2.4,.15,-2.6,.1],[-3.55,.15,-3.8,.2],
 [-2.4,1.33,-2.65,1.35],[-1.2,1.35,-1.35,1.35],[-1.25,2.6,-1.4,2.55],[.1,1.55,-.1,1.5],[.1,2.65,-.1,2.6],[-2.45,2.65,-2.7,2.65],[1.5,2.5,1.4,2.35],[2.5,3.75,2.35,3.7],[.4,3.85,.2,3.8],
 [-.75,4.03,-.95,4.02],[1.7,3.85,1.55,3.8],[2.6,2.6,2.5,2.45],[2.95,1.5,2.8,1.55],[1.55,1.6,1.55,1.4]]

lines_23L1B = [
 [-3.35,-1.95,-2.6,-1.8,-1.9,-1.85],[-3.75,-1.55,-3.2,-1.4,-1.7,-1.5],
 [-3.95,-1.2,-3.4,-1.0,-2.8,-.95,-1.35,-.95],[-4.1,-1.2,-3.9,-.8,-3.1,-.7,-1.15,-.65],
 [-4.15,-1.05,-3.8,-.6,-3.0,-.35,-2.3,-.15,-1.5,-.2,-1.0,-.15],
 [-4.1,-.8,-3.3,-.4,-2.5,-.1,-1.5,.15,-.7,.4,.0,.6,1.0,1.0,1.4,2.2],
 [-4.15,-.35,-4.1,-.25],[-4.0,-.1,-3.7,.2,-3.0,.4,-2.0,.7,-1.1,.85],
 [-3.95,-.7,-3.3,-.5,-2.4,-.15,-1.0,.3,.0,.45,.6,.35],
 [-3.95,-.7,-3.4,-.7],[-.1,.3,.5,.3,.85,.2,.85,-.2],
 [-3.9,.6,-3.0,.6,-2.0,.75,-1.5,.9],
 [-3.8,1.15,-3.2,.95,-2.4,1.0,-.8,1.2,.2,1.3,1.3,1.9],
 [-3.7,1.4,-3.2,1.2,-2.6,1.3,-1.0,1.3,.2,1.45,.5,1.6],
 [-2.7,1.35,-1.6,1.3,-.2,1.4,.5,1.7],
 [-3.55,1.8,-3.2,1.55,-2.6,1.45,-1.8,1.75,-1.0,2.3,-.6,2.5,.8,3.0],
 [-3.5,1.95,-3.0,1.55,-2.2,1.6,-1.2,2.0,-.4,2.2,.0,2.5,1.0,2.9,1.75,3.3],
 [-3.4,2.2,-2.9,1.85,-2.2,1.95,-.9,2.4,.5,3.0,1.2,3.1,1.75,3.1],
 [-3.25,2.55,-2.9,2.3,-2.0,2.2,-.9,2.5,1.0,3.3,1.5,3.4],
 [-3.05,3.0,-2.8,2.75,-2.0,2.7,-.4,3.0,1.0,3.4,1.2,3.55,1.6,3.65],
 [-2.45,3.2,-1.8,3.1,-.4,3.2,.9,3.6,1.3,3.75],
 [-1.05,3.5,.8,3.85],
 [-1.0,1.35,.0,1.3,.3,1.6,.6,2.0,.9,2.2,1.4,2.2,1.7,2.9],
 [1.5,1.35,1.45,1.15,1.7,.95,2.0,.8,2.5,.6,2.45,.9,2.6,1.3,2.9,1.85,3.1,2.3],
 [1.5,1.25,1.85,.9,2.3,.5,2.85,.3,3.0,.75,3.0,1.35,3.0,1.6,3.0,2.3],
 [1.5,1.25,1.45,.6,1.65,.2,1.6,-.1,2.3,-.15],
 [1.5,-.1,1.6,.1,1.6,.0],[1.2,1.1,2.0,1.25,2.5,.95,2.6,.6],
 [.7,1.1,1.3,1.25,1.5,1.3,1.9,1.0,2.4,.7,2.9,.6,3.1,.9,3.1,2.1],
 [2.0,1.1,2.6,1.8,3.0,2.7],[2.3,1.1,1.95,1.45,2.2,2.1,2.5,2.65],[1.45,1.45,1.7,1.6,1.7,2.2,2.0,3.1],
 [1.45,1.35,2.3,1.3,2.45,1.7,2.6,2.4,2.7,2.55],
 [3.65,.95,3.6,1.4,3.7,1.9],
 [1.5,1.7,1.75,2.3,1.9,2.7,2.3,3.2]]
arrows_23L1B = [[-2.3,-.9,-2.55,-.9],[-3.7,-1.0,-3.95,-1.05],[-2.3,.25,-2.55,.2],[-1.2,.25,-1.4,.25],[.0,.3,-.2,.3],[-3.55,.3,-3.8,.22],
 [-3.5,1.35,-3.7,1.45],[-2.05,1.28,-2.3,1.28],[-1.1,1.28,-1.3,1.28],[.2,1.3,.0,1.27],[-2.3,2.67,-2.55,2.65],[-.6,2.6,-.8,2.55],[.45,2.55,.25,2.5],
 [1.7,2.6,1.6,2.45],[1.5,1.65,1.4,1.45],[2.7,2.55,2.7,2.4],[2.95,1.5,2.95,1.3]]

lines_25L1 = [
 [-4.05,-1.1,-4.1,-.55,-3.98,-.05,-4.0,.5],[-3.7,-1.5,-3.6,-.6,-3.55,-.2,-2.8,.1,-2.0,.35,-1.3,.9,-1.2,1.35],
 [-3.55,-1.4,-3.65,-.7,-3.65,-.45,-3.6,-.05,-3.7,.3,-3.9,.55,-3.9,.75],
 [-3.2,-1.55,-2.7,-.9,-1.7,-.95],[-2.8,-1.55,-2.4,-1.0,-1.9,-.8],[-2.4,-1.55,-1.8,-.95],
 [-3.0,-.85,-2.3,-.4,-1.7,-.1,-1.1,.4,-.9,.85,-.85,1.45],
 [-2.9,-.55,-2.2,-.3,-1.6,.2,-1.25,.55,-1.05,1.5],
 [-3.2,-.2,-2.5,-.2,-1.8,.3,-1.2,.7],
 [-3.9,.55,-3.2,.1,-2.6,-.1,-2.1,.0],[-3.85,.5,-3.0,.55,-2.6,.3,-2.2,.3,-1.9,.7,-1.85,.95],
 [-3.9,.55,-2.8,.5,-2.0,.6],
 [-3.9,.55,-3.5,1.0,-3.4,1.6,-3.3,2.0],
 [-3.65,.65,-3.2,1.4,-2.9,2.7,-2.9,3.0,-3.2,3.05,-3.3,3.3],
 [-3.6,.7,-3.2,.9,-2.8,1.6,-2.6,2.5,-2.5,3.4],
 [-3.55,.7,-2.8,.95,-2.2,1.8,-1.9,2.6,-1.9,3.5],
 [-3.4,.65,-2.6,.8,-2.2,1.2,-1.6,2.5,-1.45,3.75],
 [-3.3,.7,-2.2,.8,-1.8,1.4,-1.5,2.1,-1.3,3.0,-1.1,3.85],
 [-3.2,.65,-2.0,.9,-1.55,2.0],[-2.45,.7,-2.1,.9,-1.6,1.85],
 [-3.0,2.9,-3.05,2.6],
 [-1.6,2.0,-1.45,1.85,-.9,1.85,-.75,2.0,-.75,3.5,-.95,3.9,-.5,3.9,-.45,2.7,-.05,1.95,.2,1.7],
 [-.5,3.9,-.55,2.7,-.7,2.2],[-.05,3.9,-.3,3.5,-.15,2.6,.0,2.3,.4,1.95,1.4,2.05],
 [.65,3.65,.1,3.0,.3,2.3,1.1,2.15,1.55,2.15],
 [1.0,3.3,.6,2.8,.8,2.3,1.2,2.2,1.5,2.2],[.2,1.9,.15,2.0,1.3,2.05,1.6,2.1],
 [-1.55,1.5,-.9,.8,-.6,.4,.0,.0,.3,-.35,.6,-.55],
 [-.8,1.6,-.5,.9,.0,.4,.7,-.2,1.2,-.6],
 [-1.65,1.6,-1.55,1.2,-1.15,1.15],[-1.25,1.6,-1.1,1.3,-.75,.95],
 [-1.25,.9,-.85,.2,-.62,-.49],[-1.2,.35,-.95,-.2,-.88,-.74],[-1.3,-.15,-.88,-.74],
 [-.55,-.45,-.1,-.65,.25,-.85],
 [.35,1.6,.6,1.1,1.2,.45,1.9,.05,2.8,-.1,3.35,-.1],
 [.25,1.6,.8,.65,1.5,.1,2.0,-.3,3.4,-.35],
 [.6,1.1,1.2,.35,2.0,-.1,3.4,.1],
 [.65,1.15,1.4,.6,2.3,.4,3.4,.55],
 [.8,1.05,1.6,1.05,2.4,1.2,3.0,1.7],
 [.8,1.1,1.4,1.4,2.4,1.7,2.9,2.0],
 [.55,1.0,1.3,.5,2.0,-.05],
 [2.0,-.65,2.9,-.55],[1.9,-.4,3.2,-.35],
 [-1.32,-1.91,-1.49,-1.47,-1.19,-.98,-.98,-.93],
 [-.98,-.93,-1.19,-1.37,-.98,-1.57,-.62,-1.37,-.58,-.98,-.88,-.83,-.98,-1.18,-.78,-1.28,-.62,-1.08,-.81,-.88],
 [-.88,-.74,-.58,-.74,-.62,-.49,-.88,.0]]
arrows_25L1 = [[-3.6,-.95,-3.6,-1.15],[-2.55,-.7,-2.7,-.8],[-3.55,-.05,-3.7,.0],[-3.65,-.1,-3.65,.0],[-2.35,.15,-2.55,.1],[-1.3,.2,-1.4,.05],[-1.3,1.5,-1.3,1.3],[-2.55,1.55,-2.65,1.4],
 [-1.25,2.9,-1.25,2.65],[-.2,2.85,-.2,2.65],[-2.55,3.25,-2.4,3.0],[-.15,.2,.0,.05],[1.2,.4,1.35,.25],[2.35,.18,2.6,.12],[1.3,1.45,1.55,1.55],[-.75,1.25,-.75,1.1]]

lines_23L1 = [
 [-2.9,-2.4,-2.3,-2.4],[-2.95,-2.0,-2.6,-2.1,-2.05,-2.3],[-3.1,-1.8,-2.5,-1.7,-2.1,-2.0,-1.75,-2.1],
 [-2.9,-1.4,-2.3,-1.25,-1.9,-1.5,-1.45,-1.85],[-3.1,-1.05,-2.6,-1.15,-2.0,-.95,-1.05,-1.2],
 [-3.7,-1.1,-3.3,-.9,-2.6,-.85,-1.75,-.8,-.8,-1.15],
 [-3.9,-.6,-3.2,-.5,-2.5,-.45,-1.8,-.3,-.45,-.85],
 [-4.05,-.05,-3.4,-.3,-2.7,-.1,-1.7,-.05,-.9,-.4,-.4,-.55],
 [-4.05,.15,-3.95,-.1,-3.0,-.15,-2.0,-.1,-.5,-.3],
 [-4.05,-.1,-2.8,-.05,-1.9,-.2,-.1,-.1,.95,-.05],
 [-2.0,-.1,-1.5,-.1,-.6,.05,.0,.2,1.0,.3,1.0,-.2,.85,-.35],
 [-2.5,.05,-1.6,.1,-.7,.15,.4,.6,.8,.8],
 [-1.7,.05,-.6,.35,.3,1.5,1.45,3.4],
 [-2.3,.1,-1.5,.5,-.6,1.1,.0,2.0,1.0,3.1,1.45,3.5],
 [-2.8,.2,-2.1,.5,-1.2,.85,-.7,1.3,-.1,2.0,1.3,3.4],
 [-1.6,.1,-.6,.7,.0,1.1,.4,1.8,1.45,3.5],
 [-3.95,.55,-3.5,.2,-2.8,.3,-2.0,.7,-1.4,1.2,-.8,2.0,.2,3.0,1.3,3.55],
 [-3.9,.85,-3.4,.65,-2.8,.7,-2.0,1.1,-1.2,2.2,-.5,2.8,1.3,3.5],
 [-3.7,1.2,-3.3,.85,-2.7,.85,-2.2,1.05],
 [-3.6,1.45,-3.2,1.15,-2.5,1.3,-1.8,1.7,-1.4,2.45,-.9,2.8,.5,3.4],
 [-3.3,1.85,-2.8,1.6,-2.1,1.8,-1.6,2.6,-1.2,3.1,-.7,3.3],
 [-3.1,2.2,-2.7,2.0,-2.3,2.4],[-3.05,2.35,-2.6,2.6,-2.4,3.1],
 [.1,-.3,1.3,-.25],[.7,-.2,.95,.2],
 [.95,1.7,1.2,2.6,1.4,3.3],[1.45,3.5,1.35,2.8,1.3,.75,1.3,.65],[1.55,3.5,1.5,2.8,1.4,.65,1.7,.7,2.0,1.0,1.9,.9],
 [1.5,3.5,1.55,3.0,2.4,2.2,3.0,1.0,3.0,.4,2.5,.1],
 [1.5,3.5,1.7,3.0,2.5,2.4,3.1,1.0,3.0,.2,2.6,-.1],
 [1.5,3.5,1.6,2.8,2.1,2.2,3.0,1.4,3.3,.7,2.9,.1],
 [1.3,-1.0,1.4,-.7,1.4,-.1,1.6,.1,1.5,-.2,1.3,-.6],
 [1.5,-1.0,1.7,-.6,1.8,.1],[1.7,-1.0,1.9,-.5,1.8,.0],[1.95,-.9,2.0,-.4,2.6,.2],
 [2.45,.05,2.9,.5,3.0,1.0,3.1,1.5,2.9,2.2],
 [2.75,.4,3.2,1.1,3.4,1.55],[3.3,.3,3.5,1.0,3.75,1.7],[3.8,.45,3.9,1.5],
 [2.45,-.05,2.65,.2],[1.3,.65,2.1,.55,2.3,.8],
 [.55,-.05,.9,.5,.95,.6]]
arrows_23L1 = [[-2.4,-2.4,-2.6,-2.4],[-2.05,-1.35,-2.2,-1.2],[-1.6,-1.15,-1.45,-1.2],[-3.6,-.95,-3.75,-1.05],[-3.65,.25,-3.9,.2],[-2.55,.35,-2.7,.25],[-3.6,1.0,-3.7,1.2],[-2.6,1.55,-2.75,1.5],
 [-2.3,2.55,-2.45,2.35],[-1.1,2.65,-1.25,2.45],[-1.0,1.2,-1.15,1.0],[.0,2.5,-.1,2.35],[.0,1.55,-.15,1.4],[1.35,2.6,1.35,2.4],[1.35,.9,1.35,.7],[2.75,1.35,2.8,1.15],[2.15,2.6,2.15,2.4],
 [3.7,1.6,3.65,1.4],[1.55,.05,1.7,.1],[.9,.3,.75,.2],[1.3,-.9,1.3,-1.05]]

panels = [
 ("T=1.55 ns","27L2",4.32,4.33,[-4,-2,0,2,4],[-4,-2,0,2,4],grid_27L2,lines_27L2,arrows_27L2,(-2.41,-2.99)),
 ("T=1.77 ns","27L1B",4.24,4.29,[-4,-2,0,2,4],[-4,-2,0,2,4],grid_27L1B,lines_27L1B,arrows_27L1B,(-2.26,-3.02)),
 ("T=2.55 ns","26L2",4.29,4.33,[-4,-2,0,2,4],[-4,-2,0,2,4],grid_26L2,lines_26L2,arrows_26L2,(-2.39,-2.99)),
 ("T=2.77 ns","26L1B",4.3,4.2,[-4,-2,0,2,4],[-4,-2,0,2,4],grid_26L1B,lines_26L1B,arrows_26L1B,(-2.23,-3.09)),
 ("T=3 ns","27L1",4.2,4.2,[-4,-2,0,2,4],[-4,-2,0,2,4],grid_27L1,lines_27L1,arrows_27L1,(-2.5,-3.09)),
 ("T=3.55 ns","25L2",4.24,4.3,[-4,-2,0,2,4],[-4,-2,0,2,4],grid_25L2,lines_25L2,arrows_25L2,(-2.42,-3.02)),
 ("T=3.77 ns","25L1B",4.2,4.2,[-4,-2,0,2,4],[-4,-2,0,2,4],grid_25L1B,lines_25L1B,arrows_25L1B,(-2.3,-3.12)),
 ("T=4 ns","26L1",3.97,4.16,[-2,0,2],[-4,-2,0,2,4],grid_26L1,lines_26L1,arrows_26L1,(-2.65,-3.19)),
 ("T=4.55 ns","23L2",4.32,4.47,[-4,-2,0,2,4],[-4,-2,0,2,4],grid_23L2,lines_23L2,arrows_23L2,(-2.41,-2.91)),
 ("T=4.77 ns","23L1B",4.24,4.33,[-4,-2,0,2,4],[-4,-2,0,2,4],grid_23L1B,lines_23L1B,arrows_23L1B,(-2.28,-3.04)),
 ("T=5 ns","25L1",4.2,4.2,[-4,-2,0,2,4],[-4,-2,0,2,4],grid_25L1,lines_25L1,arrows_25L1,(-2.47,-3.09)),
 ("T=6 ns","23L1",3.97,4.0,[-2,0,2],[-3,-2,-1,0,1,2,3],grid_23L1,lines_23L1,arrows_23L1,(-2.68,-3.25)),
]
colorbar_ticks = [0,0.5,1,1.5,2,2.5,3,3.5,4,4.5,5]
colorbar_title = "Path-integrated magnetic field (KG cm)"
NOM_H, NOM_V = 4.3, 4.31
SERIF, SANS = "Liberation Serif", "Liberation Sans"
cmap = LinearColorMapper(palette=Turbo256, low=0, high=5)

def cr1d(t, knots, vals):
    h = knots[1]-knots[0]
    v = np.concatenate([[0,0], vals, [0,0,0]])
    u = (t-knots[0])/h + 2
    out = np.zeros_like(t)
    ok = (u >= 1) & (u < len(v)-2)
    i = np.floor(u[ok]).astype(int); f = u[ok]-i
    out[ok] = 0.5*(2*v[i]+(v[i+1]-v[i-1])*f+(2*v[i-1]-5*v[i]+4*v[i+1]-v[i+2])*f**2+(3*v[i]-v[i-1]-3*v[i+1]+v[i+2])*f**3)
    return out

def upsample(g):
    g = np.array(g, float)
    ty = np.linspace(-NOM_H, NOM_H, 393)
    tx = np.linspace(-NOM_V, NOM_V, 292)
    a = np.array([cr1d(tx, np.array(grid_rows_x), g[:,j]) for j in range(g.shape[1])]).T
    b = np.array([cr1d(ty, np.array(grid_cols_y), a[i,:]) for i in range(a.shape[0])])
    return np.clip(b, 0, 5)

def smooth(flat):
    p = np.array(flat, float).reshape(-1, 2)
    if len(p) < 3:
        return p
    q = np.vstack([p[0], p, p[-1]])
    out = []
    for i in range(1, len(q)-2):
        for f in np.linspace(0, 1, 8, endpoint=False):
            a, b, c, d = q[i-1], q[i], q[i+1], q[i+2]
            out.append(0.5*(2*b+(c-a)*f+(2*a-5*b+4*c-d)*f**2+(3*b-a-3*c+d)*f**3))
    out.append(p[-1])
    return np.array(out)

def make(idx, pn):
    title, tag, limh, limv, xt, yt, grid, lines, arrows, lab = pn
    c, r = idx % 4, idx // 4
    kh, kv = limh/NOM_H, limv/NOM_V
    top = 39
    left = 73 if c == 3 else 72
    H = [404, 405, 401][r]
    p = figure(width=516, height=H, min_border_left=left, min_border_right=516-left-393,
               min_border_top=top, min_border_bottom=H-top-292,
               x_range=Range1d(-limh, limh), y_range=Range1d(limv, -limv),
               output_backend="svg", toolbar_location=None, title=title,
               x_axis_label="y (mm)", y_axis_label="x (mm)")
    p.title.align = "center"
    p.title.text_font = SERIF
    p.title.text_font_size = "27px"
    p.title.text_font_style = "normal"
    p.title.text_color = "#262626"
    p.title.standoff = 8
    p.grid.visible = False
    p.background_fill_color = "#30123B"
    p.outline_line_color = "#8a8a8a"; p.outline_line_width = 1
    p.image(image=[upsample(grid)], x=-limh, y=-limv, dw=2*limh, dh=2*limv, color_mapper=cmap)
    ss = [smooth(l) for l in lines]
    p.multi_line(xs=[list(s[:,0]*kh) for s in ss], ys=[list(s[:,1]*kv) for s in ss],
                 line_color="white", line_width=2)
    a = np.array(arrows, float)
    src = ColumnDataSource(dict(x0=a[:,0]*kh, y0=a[:,1]*kv, x1=a[:,2]*kh, y1=a[:,3]*kv))
    p.add_layout(Arrow(end=VeeHead(size=11, fill_color="white", line_color="white", line_width=1),
                       x_start="x0", y_start="y0", x_end="x1", y_end="y1", source=src,
                       line_color="white", line_width=2))
    p.add_layout(Label(x=lab[0]*kh, y=lab[1]*kv, text=tag, text_color="#ececec", text_font=SERIF,
                       text_font_size="23px", text_font_style="bold", text_align="center", text_baseline="middle"))
    for ax, ticks in ((p.xaxis[0], xt), (p.yaxis[0], yt)):
        ax.ticker = FixedTicker(ticks=ticks)
        ax.major_label_overrides = {t: str(t) for t in ticks}
        ax.axis_line_color = None
        ax.major_tick_in = 3; ax.major_tick_out = 0
        ax.major_tick_line_color = "#555555"
        ax.minor_tick_line_color = None
        ax.major_label_text_font = SANS
        ax.major_label_text_font_size = "21px"
        ax.major_label_text_color = "#404040"
        ax.axis_label_text_font = SERIF
        ax.axis_label_text_font_style = "normal"
        ax.axis_label_text_font_size = "26px"
        ax.axis_label_text_color = "#262626"
    p.xaxis[0].major_label_standoff = 12
    p.xaxis[0].axis_label_standoff = 9
    p.yaxis[0].major_label_standoff = 9
    p.yaxis[0].axis_label_standoff = 8
    return p

figs = [make(i, pn) for i, pn in enumerate(panels)]
rows = [row(*figs[i:i+4], spacing=0) for i in (0, 4, 8)]

cb = figure(width=85, height=1169, min_border_left=7, min_border_right=41, min_border_top=36, min_border_bottom=29,
            x_range=Range1d(0, 1), y_range=Range1d(0, 5), y_axis_location="right", x_axis_location=None,
            output_backend="svg", toolbar_location=None)
cb.grid.visible = False
cb.outline_line_color = "#8a8a8a"
cb.image(image=[np.linspace(0, 5, 256).reshape(-1, 1)], x=0, y=0, dw=1, dh=5, color_mapper=cmap)
ax = cb.yaxis[0]
ax.ticker = FixedTicker(ticks=colorbar_ticks)
ax.major_label_overrides = {t: (str(int(t)) if float(t).is_integer() else str(t)) for t in colorbar_ticks}
ax.axis_line_color = None
ax.major_tick_in = 12; ax.major_tick_out = 0
ax.major_tick_line_color = "#404040"
ax.minor_tick_line_color = None
ax.major_label_text_font = SANS; ax.major_label_text_font_size = "21px"; ax.major_label_text_color = "#404040"
ax.major_label_standoff = 10

lab = figure(width=32, height=1169, min_border_left=31, min_border_right=0, min_border_top=36, min_border_bottom=29,
             x_range=Range1d(0, 1), y_range=Range1d(0, 5), x_axis_location=None,
             output_backend="svg", toolbar_location=None, y_axis_label=colorbar_title)
lab.grid.visible = False
lab.outline_line_color = None
la = lab.yaxis[0]
la.ticker = FixedTicker(ticks=[])
la.axis_line_color = None
la.major_tick_line_color = None
la.minor_tick_line_color = None
la.major_label_text_font_size = "0px"
la.major_label_standoff = 0
la.axis_label_standoff = 0
la.axis_label_text_font = SANS; la.axis_label_text_font_style = "normal"
la.axis_label_text_font_size = "21px"; la.axis_label_text_color = "#404040"

page = row(column(*rows, spacing=0), cb, lab, spacing=0)
page.margin = (0, 0, 0, 2)
open("out.html", "w").write(file_html(page, INLINE))
